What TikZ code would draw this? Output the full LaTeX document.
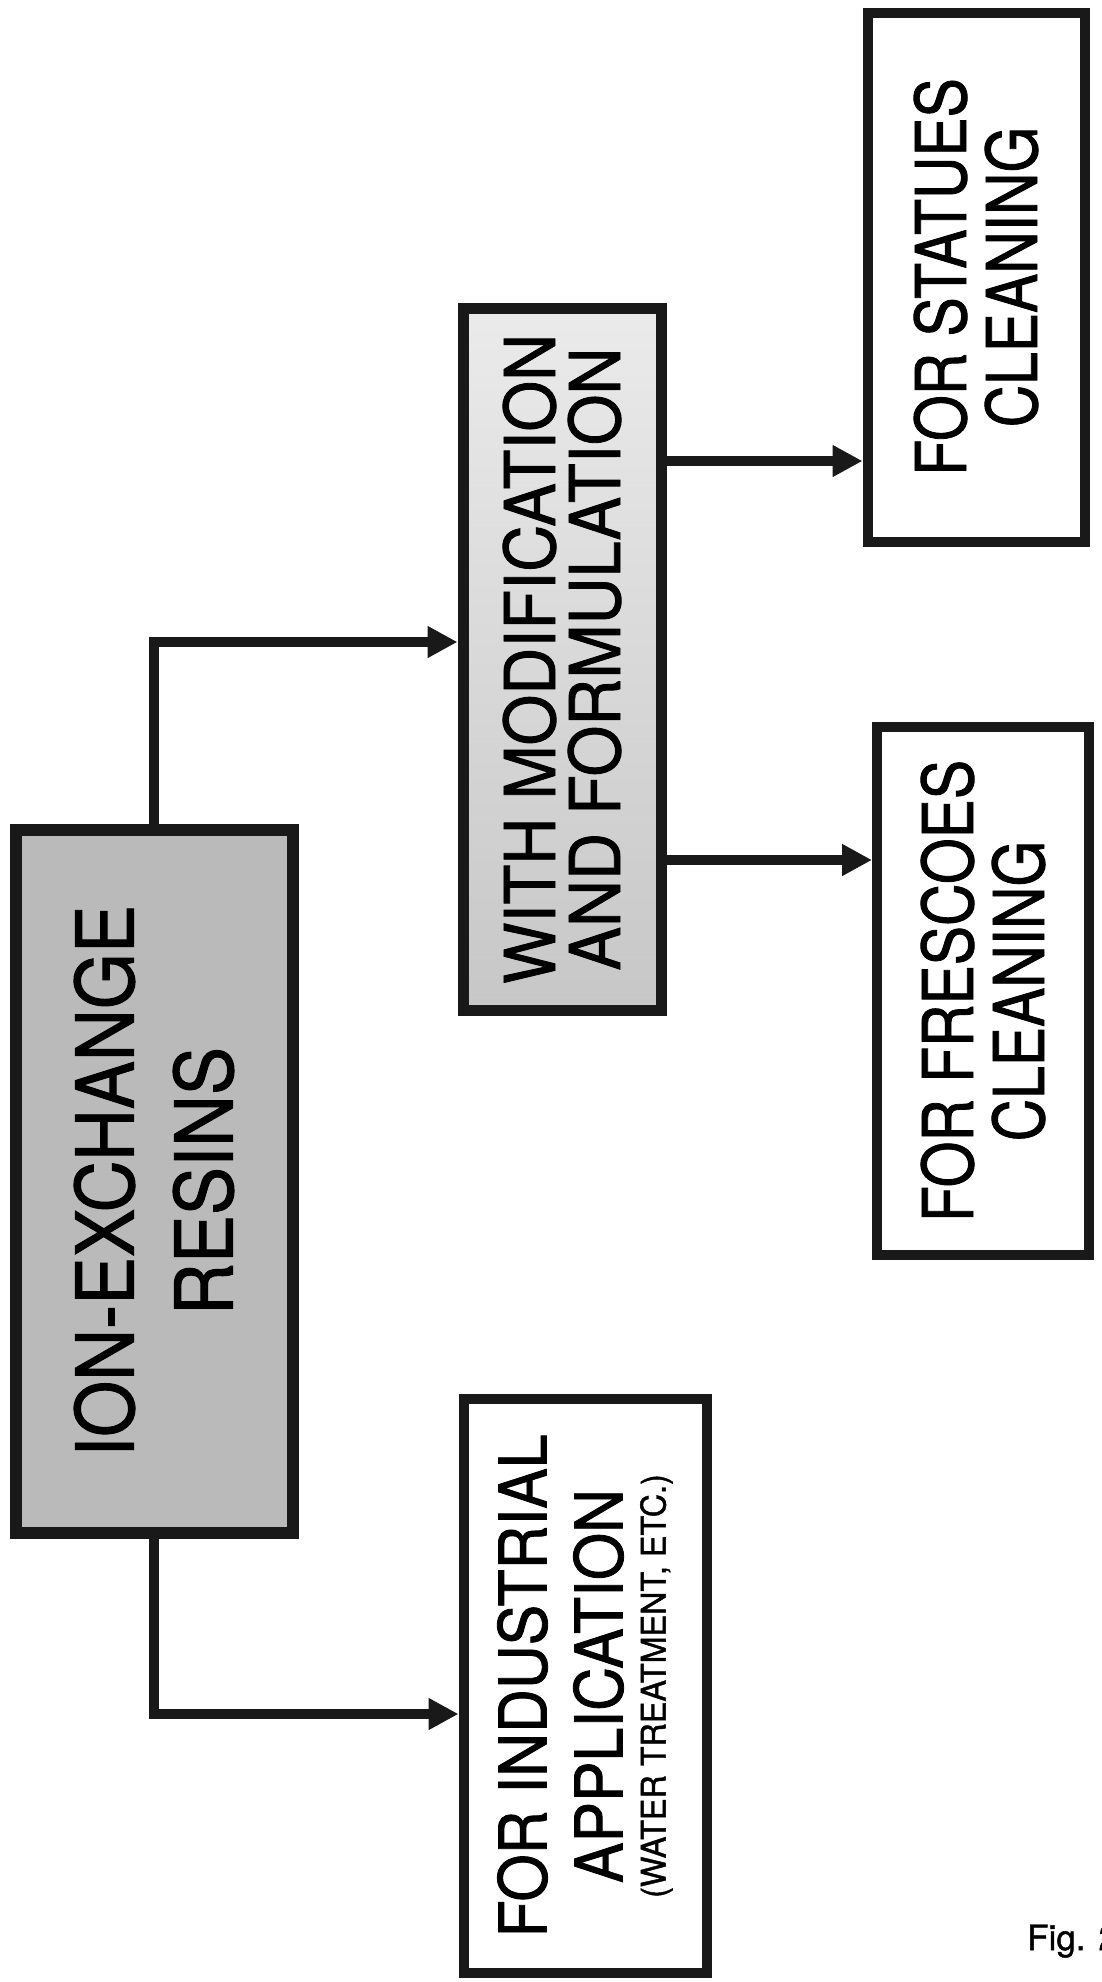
\documentclass[tikz,border=0pt]{standalone}
\usepackage{fontspec}
\setmainfont{TeX Gyre Heros}[UprightFeatures={FakeBold=1.3}]
\usetikzlibrary{arrows.meta}
\newcommand\cond[2]{\scalebox{#1}[1]{#2}}
\begin{document}
\begin{tikzpicture}[x=1pt,y=-1pt,
  box/.style={draw=black!90, line width=10pt, rotate=90, align=center, inner sep=0pt},
  arr/.style={draw=black!90, line width=10pt, -{Triangle[length=30pt,width=30pt]}}]
\useasboundingbox (0,0) rectangle (1101,1982);
\fill[white] (0,0) rectangle (1101,1982);
\node[box, fill=black!27, line width=12pt, minimum width=703pt, minimum height=277pt,
  font={\fontsize{80}{99}\selectfont}] (main) at (154,1181)
  {\cond{0.9}{ION-EXCHANGE}\\\cond{0.9}{RESINS}};
\node[box, fill=white, minimum width=574pt, minimum height=243pt,
  font={\fontsize{66}{76}\selectfont}] (ind) at (585,1686)
  {\cond{0.92}{FOR INDUSTRIAL}\\\cond{0.92}{APPLICATION}\\[-33pt]{\fontsize{34}{40}\selectfont\cond{0.95}{(WATER TREATMENT, ETC.)}}};
\node[box, top color=black!8, bottom color=black!22, shading angle=0, line width=11pt, minimum width=702pt, minimum height=198pt,
  font={\fontsize{70}{65}\selectfont}] (mod) at (562,659)
  {\cond{0.93}{WITH MODIFICATION}\\\cond{0.93}{AND FORMULATION}};
\node[box, fill=white, minimum width=529pt, minimum height=217pt,
  font={\fontsize{70}{71}\selectfont}] (stat) at (976,277)
  {\cond{0.84}{FOR STATUES}\\\cond{0.84}{CLEANING}};
\node[box, fill=white, minimum width=528pt, minimum height=212pt,
  font={\fontsize{70}{71}\selectfont}] (fres) at (983,991)
  {\cond{0.84}{FOR FRESCOES}\\\cond{0.84}{CLEANING}};
\draw[arr] (main.east) |- (mod.north |- 0,642);
\draw[arr] (main.west) |- (ind.north |- 0,1714);
\draw[arr] (mod.south |- 0,461) -- (stat.north |- 0,461);
\draw[arr] (mod.south |- 0,860) -- (fres.north |- 0,860);
\node[anchor=base west, inner sep=0pt, font={\fontsize{35}{40}\selectfont}] (fig) at (1027,1950) {Fig. 2};
\end{tikzpicture}
\end{document}
